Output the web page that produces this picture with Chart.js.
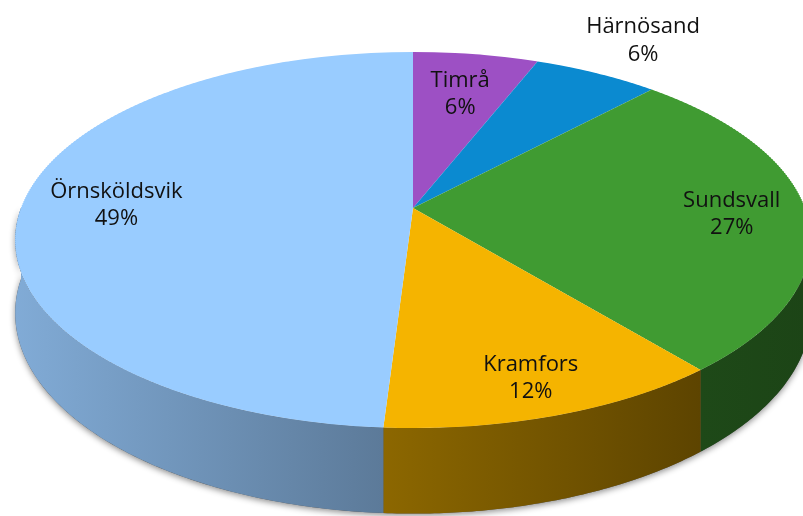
<!DOCTYPE html>
<html lang="sv">
<head>
<meta charset="UTF-8">
<title>Andel per kommun</title>
<script src="https://cdn.jsdelivr.net/npm/chart.js"></script>
<style>
  html, body { margin: 0; padding: 0; background: #fff; }
  canvas { display: block; }
</style>
</head>
<body>
<canvas id="pieChart" width="803" height="516"></canvas>
<script>
// data, clockwise from 12 o'clock
var kommuner = ['Timrå', 'Härnösand', 'Sundsvall', 'Kramfors', 'Örnsköldsvik'];
var andel = [6, 6, 27, 12, 49];

var farger = ['#9d50c4', '#0b8ad0', '#409b32', '#f5b400', '#99ccff'];
// where the label sits, as a fraction of the radius (Härnösand is outside)
var etikettRadie = [0.72, 1.3, 0.81, 0.84, 0.76];
// shading of the side wall, [left, right] as a fraction of the slice colour
var sidoSkugga = [[0.5, 0.4], [0.5, 0.4], [0.47, 0.44], [0.57, 0.38], [0.84, 0.6]];

// tilted view of the pie (pixels)
var vy = { cx: 413, cy: 208, A: 392, B: 182.6, D: 5.875, djup: 71 };

function projicera(u, v) {
    var s = 1 / (1 - v / vy.D);
    return { x: vy.cx + vy.A * u * s, y: vy.cy + vy.B * v * s, s: s };
}

function skugga(hex, f) {
    var n = parseInt(hex.slice(1), 16);
    var r = Math.round(((n >> 16) & 255) * f);
    var g = Math.round(((n >> 8) & 255) * f);
    var b = Math.round((n & 255) * f);
    return 'rgb(' + r + ',' + g + ',' + b + ')';
}

// path of the side wall between two angles
function sidoBana(ctx, a, b) {
    var n = Math.max(2, Math.ceil((b - a) / 0.01));
    var pts = [], min = Infinity, max = -Infinity;
    for (var k = 0; k <= n; k++) {
        var t = a + (b - a) * k / n;
        var p = projicera(Math.cos(t), Math.sin(t));
        pts.push(p);
        min = Math.min(min, p.x); max = Math.max(max, p.x);
    }
    ctx.moveTo(pts[0].x, pts[0].y);
    for (k = 1; k <= n; k++) ctx.lineTo(pts[k].x, pts[k].y);
    for (k = n; k >= 0; k--) ctx.lineTo(pts[k].x, pts[k].y + vy.djup * pts[k].s);
    ctx.closePath();
    return { min: min, max: max };
}

var pie3d = {
    id: 'pie3d',
    beforeDatasetsDraw: function(chart) {
        var ctx = chart.ctx;
        var arcs = chart.getDatasetMeta(0).data;
        var ax = arcs[0].x, ay = arcs[0].y, R = arcs[0].outerRadius;

        // soft shadow under the whole disc
        ctx.save();
        ctx.beginPath();
        sidoBana(ctx, 0, Math.PI);
        ctx.shadowColor = 'rgba(0,0,0,0.45)';
        ctx.shadowBlur = 6;
        ctx.shadowOffsetY = 2;
        ctx.fillStyle = '#555';
        ctx.fill();
        ctx.restore();

        // side walls of the front slices
        arcs.forEach(function(arc, i) {
            var a = Math.max(arc.startAngle, 0), b = Math.min(arc.endAngle, Math.PI);
            if (b <= a) return;
            ctx.beginPath();
            var ut = sidoBana(ctx, a, b);
            var g = ctx.createLinearGradient(ut.min, 0, ut.max, 0);
            g.addColorStop(0, skugga(farger[i], sidoSkugga[i][0]));
            g.addColorStop(1, skugga(farger[i], sidoSkugga[i][1]));
            ctx.fillStyle = g;
            ctx.fill();
        });

        // top of the pie: the library's arcs, drawn band by band in perspective
        var topp = Math.floor(vy.cy - vy.B / (1 + 1 / vy.D)) - 2;
        var botten = Math.ceil(vy.cy + vy.B / (1 - 1 / vy.D)) + 2;
        var h = 2;
        for (var y = topp; y < botten; y += h) {
            var ym = y + h / 2;
            var vm = (ym - vy.cy) / (vy.B + (ym - vy.cy) / vy.D);
            var s = 1 / (1 - vm / vy.D);
            var sx = vy.A * s / R, sy = vy.B * s * s / R;
            ctx.save();
            ctx.beginPath();
            ctx.rect(0, y, chart.width, h);
            ctx.clip();
            ctx.translate(vy.cx - sx * ax, ym - sy * (ay + R * vm));
            ctx.scale(sx, sy);
            arcs.forEach(function(arc) { arc.draw(ctx); });
            ctx.restore();
        }
        return false;
    },
    afterDraw: function(chart) {
        var ctx = chart.ctx;
        var arcs = chart.getDatasetMeta(0).data;
        var summa = andel.reduce(function(a, b) { return a + b; }, 0);
        ctx.save();
        ctx.font = '22px "Open Sans", sans-serif';
        ctx.fillStyle = '#111';
        ctx.textAlign = 'center';
        ctx.textBaseline = 'alphabetic';
        arcs.forEach(function(arc, i) {
            var mitt = (arc.startAngle + arc.endAngle) / 2;
            var r = etikettRadie[i];
            var p = projicera(r * Math.cos(mitt), r * Math.sin(mitt));
            ctx.fillText(kommuner[i], p.x, p.y - 6);
            ctx.fillText(Math.round(andel[i] / summa * 100) + '%', p.x, p.y + 21.5);
        });
        ctx.restore();
    }
};

var ctx = document.getElementById('pieChart').getContext('2d');
var chart = new Chart(ctx, {
    type: 'pie',
    data: {
        labels: kommuner,
        datasets: [{
            data: andel,
            backgroundColor: farger,
            borderWidth: 0,
            hoverOffset: 0
        }]
    },
    options: {
        responsive: false,
        devicePixelRatio: 1,
        animation: false,
        events: [],
        plugins: {
            legend: { display: false },
            tooltip: { enabled: false }
        }
    },
    plugins: [pie3d]
});
</script>
</body>
</html>
